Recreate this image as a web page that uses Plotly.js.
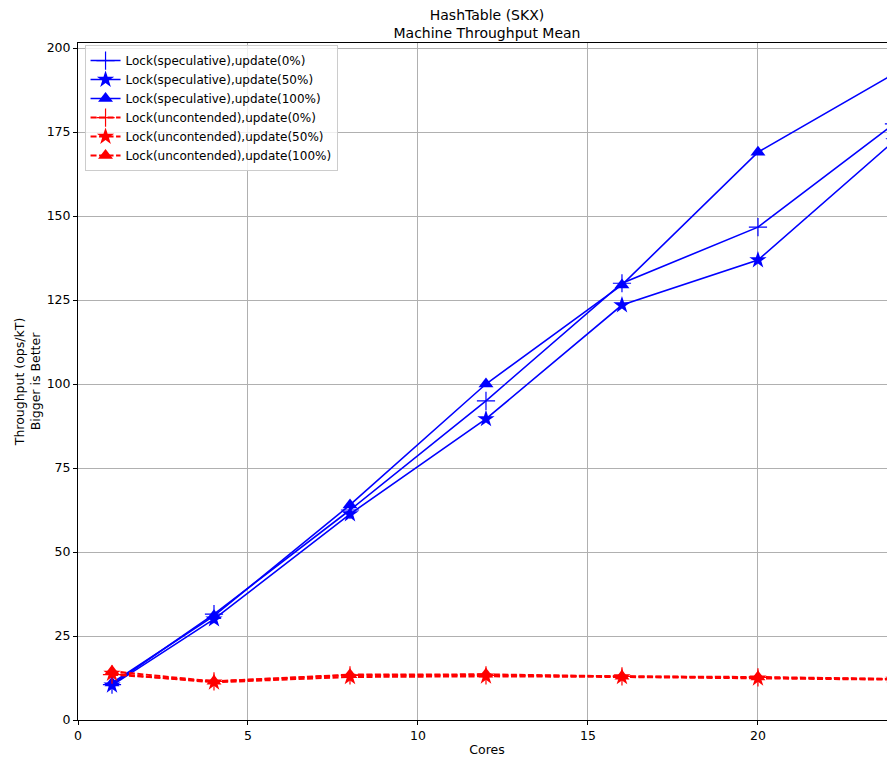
<!DOCTYPE html>
<html>
<head>
<meta charset="utf-8">
<script src="https://cdn.plot.ly/plotly-3.0.1.min.js"></script>
<style>
html,body{margin:0;padding:0;overflow:hidden;background:#fff;width:887px;height:757px;}
#chart{width:896px;height:757px;}
</style>
</head>
<body>
<div id="chart"></div>
<script>
const cores = [1, 4, 8, 12, 16, 20, 24];

const specUpd0   = [10.5, 31.5, 62.5, 95.0, 130.0, 146.7, 177.4];
const specUpd50  = [10.3, 30.0, 61.3, 89.6, 123.5, 136.9, 172.3];
const specUpd100 = [11.0, 31.0, 64.0, 100.0, 129.5, 169.0, 192.3];

const uncUpd0   = [13.5, 11.5, 13.3, 13.3, 13.0, 12.7, 12.2];
const uncUpd50  = [13.8, 11.2, 12.8, 13.0, 12.8, 12.4, 12.0];
const uncUpd100 = [14.5, 11.5, 13.5, 13.6, 13.0, 12.8, 12.2];

const seriesNames = [
  'Lock(speculative),update(0%)',
  'Lock(speculative),update(50%)',
  'Lock(speculative),update(100%)',
  'Lock(uncontended),update(0%)',
  'Lock(uncontended),update(50%)',
  'Lock(uncontended),update(100%)'
];
const yTicks = [0, 25, 50, 75, 100, 125, 150, 175, 200];
const xTicks = [0, 5, 10, 15, 20];

function mk(name, y, color, symbol, size, dash, width) {
  return {
    x: cores, y: y, name: name, type: 'scatter', mode: 'lines+markers',
    line: {color: color, width: width, dash: dash},
    marker: {color: color, symbol: symbol, size: size,
             line: {color: color, width: symbol === 'cross-thin-open' ? 1.2 : 0}},
    cliponaxis: true
  };
}

const traces = [
  mk(seriesNames[0], specUpd0,   'blue', 'cross-thin-open', 13, 'solid', 1.6),
  mk(seriesNames[1], specUpd50,  'blue', 'star', 13, 'solid', 1.6),
  mk(seriesNames[2], specUpd100, 'blue', 'triangle-up', 13, 'solid', 1.6),
  mk(seriesNames[3], uncUpd0,   'red', 'cross-thin-open', 13, '6px,2.5px', 2),
  mk(seriesNames[4], uncUpd50,  'red', 'star', 13, '6px,2.5px', 2),
  mk(seriesNames[5], uncUpd100, 'red', 'triangle-up', 13, '6px,2.5px', 2)
];

const font = {family: 'DejaVu Sans, sans-serif', size: 13, color: '#000'};

const layout = {
  width: 896, height: 757,
  margin: {l: 78, r: 0, t: 43, b: 37},
  paper_bgcolor: '#fff', plot_bgcolor: '#fff',
  font: font,
  showlegend: true,
  title: {
    text: 'HashTable (SKX)<br>Machine Throughput Mean',
    font: {family: 'DejaVu Sans, sans-serif', size: 14, color: '#000'},
    x: 0.5, xanchor: 'center', xref: 'paper',
    y: 0.9736, yanchor: 'middle', yref: 'container'
  },
  xaxis: {
    range: [0, 24.06],
    tickvals: xTicks, ticktext: xTicks.map(String),
    ticks: 'outside', ticklen: 4, tickwidth: 1, tickcolor: '#000',
    showline: true, linecolor: '#000', linewidth: 1, mirror: true,
    showgrid: true, gridcolor: '#b0b0b0', gridwidth: 1,
    zeroline: false,
    tickfont: {family: 'DejaVu Sans, sans-serif', size: 12.5},
    title: {text: 'Cores', standoff: 6, font: {family: 'DejaVu Sans, sans-serif', size: 12.5}}
  },
  yaxis: {
    range: [0, 201.5],
    tickvals: yTicks, ticktext: yTicks.map(String),
    ticks: 'outside', ticklen: 4, tickwidth: 1, tickcolor: '#000',
    showline: true, linecolor: '#000', linewidth: 1, mirror: true,
    showgrid: true, gridcolor: '#b0b0b0', gridwidth: 1,
    zeroline: false,
    tickfont: {family: 'DejaVu Sans, sans-serif', size: 12.5},
    title: {text: 'Throughput (ops/kT)<br>Bigger is Better', standoff: 3,
            font: {family: 'DejaVu Sans, sans-serif', size: 12.5}}
  },
  legend: {
    x: 0.008, y: 0.997, xanchor: 'left', yanchor: 'top',
    bgcolor: 'rgba(255,255,255,0.8)', bordercolor: '#cccccc', borderwidth: 1,
    font: {family: 'DejaVu Sans, sans-serif', size: 12},
    tracegroupgap: 0, itemwidth: 30
  }
};

Plotly.newPlot('chart', traces, layout, {displayModeBar: false, staticPlot: true});
</script>
</body>
</html>
